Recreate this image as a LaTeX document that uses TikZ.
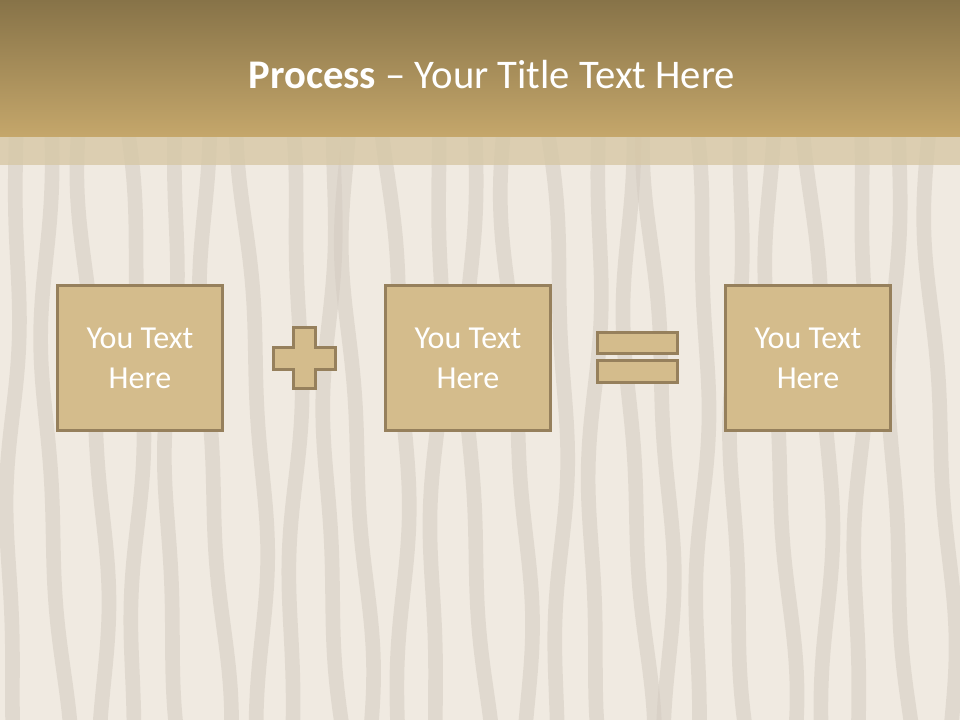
\documentclass[tikz,border=0pt]{standalone}
\usepackage{fontspec}
\setmainfont{Carlito}
\usetikzlibrary{positioning}
\definecolor{HeadTop}{RGB}{135,115,72}
\definecolor{HeadBottom}{RGB}{197,167,107}
\definecolor{SandBase}{RGB}{240,234,225}
\definecolor{SandRipple}{RGB}{212,204,194}
\definecolor{SandBand}{RGB}{215,200,166}
\definecolor{BoxFill}{RGB}{212,188,140}
\definecolor{BoxLine}{RGB}{150,128,92}
\tikzset{
  textbox/.style={draw=BoxLine,fill=BoxFill,line width=2.25pt,
    minimum width=123.75pt,minimum height=108.75pt,inner sep=0pt,
    text=white,align=center,font=\fontsize{24}{30}\selectfont},
  sign/.style={draw=BoxLine,fill=BoxFill,line width=2.25pt},
  ripple/.style={SandRipple,line width=11pt,opacity=0.55,line cap=round},
  titletext/.style={text=white,font=\fontsize{30.5}{36}\selectfont}
}

\begin{document}
\begin{tikzpicture}[x=0.75pt,y=-0.75pt]
          \useasboundingbox (0,0) rectangle (960,720);
          \fill[SandBase] (0,0) rectangle (960,720);
          \foreach \i in {0,...,25} {
            \pgfmathsetmacro\x{\i*38+8+mod(\i*53,17)}
            \pgfmathsetmacro\p{mod(\i*97,360)}
            \draw[ripple] plot[domain=137:730,samples=30,smooth,variable=\t]
              ({\x+9*sin(\t*0.45+\p)+3*sin(\t*1.3+2*\p)+0.02*(\t-137)},\t);
          }
          \fill[SandBand,opacity=0.8] (0,137) rectangle (960,165);
          \shade[top color=HeadTop,bottom color=HeadBottom] (0,0) rectangle (960,137);
          \node[titletext] (title) at (492,75) {\textbf{Process} – Your Title Text Here};
          \node[textbox] (first) at (140,358) {You Text\\Here};
          \node[textbox,right=120pt of first] (second) {You Text\\Here};
          \node[textbox,right=129pt of second] (third) {You Text\\Here};
          \draw[sign] (293,327) -- (315,327) -- (315,347) -- (335,347) -- (335,369)
            -- (315,369) -- (315,388) -- (293,388) -- (293,369) -- (273,369)
            -- (273,347) -- (293,347) -- cycle;
          \draw[sign] (597,332) rectangle (677,353);
          \draw[sign] (597,360) rectangle (677,382);
        \end{tikzpicture}
\end{document}
